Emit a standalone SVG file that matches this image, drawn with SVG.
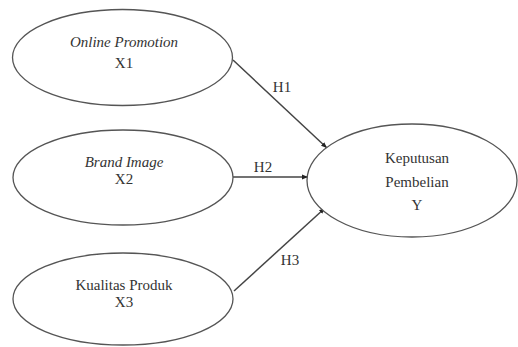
<svg xmlns="http://www.w3.org/2000/svg" width="518" height="347" viewBox="0 0 518 347">
<style>
.n ellipse{fill:#fff;stroke:#555;stroke-width:1.3}
text{font-family:'Liberation Serif',Tinos,'Times New Roman',Times,'DejaVu Serif',serif;font-size:15px;fill:#333;text-anchor:middle}
.i{font-style:italic}
.c line{stroke:#444;stroke-width:1.5;marker-end:url(#a)}
</style>
<defs>
<marker id="a" viewBox="0 0 10 10" refX="10" refY="5" markerWidth="6" markerHeight="6" orient="auto" markerUnits="userSpaceOnUse">
<path d="M0,1 L10,5 L0,9 z" fill="#222"/>
</marker>
</defs>
<rect width="518" height="347" fill="#fff"/>
<g class="c">
<line x1="233" y1="60" x2="327" y2="148"/>
<line x1="233" y1="177" x2="308" y2="177"/>
<line x1="234" y1="291" x2="325" y2="208"/>
<text x="282" y="92">H1</text>
<text x="263" y="172">H2</text>
<text x="290" y="265">H3</text>
</g>
<g id="x1" class="n">
<ellipse cx="122.5" cy="57.5" rx="110" ry="48"/>
<text x="124" y="47" class="i">Online Promotion</text>
<text x="124" y="68">X1</text>
</g>
<g id="x2" class="n">
<ellipse cx="123" cy="177.5" rx="110" ry="47.5"/>
<text x="124" y="167" class="i">Brand Image</text>
<text x="124" y="184">X2</text>
</g>
<g id="x3" class="n">
<ellipse cx="123" cy="299" rx="110" ry="46"/>
<text x="124" y="290">Kualitas Produk</text>
<text x="124" y="307">X3</text>
</g>
<g id="y" class="n">
<ellipse cx="412" cy="180.5" rx="105" ry="56.5"/>
<text x="417" y="163">Keputusan</text>
<text x="417" y="187">Pembelian</text>
<text x="417" y="210">Y</text>
</g>
</svg>
